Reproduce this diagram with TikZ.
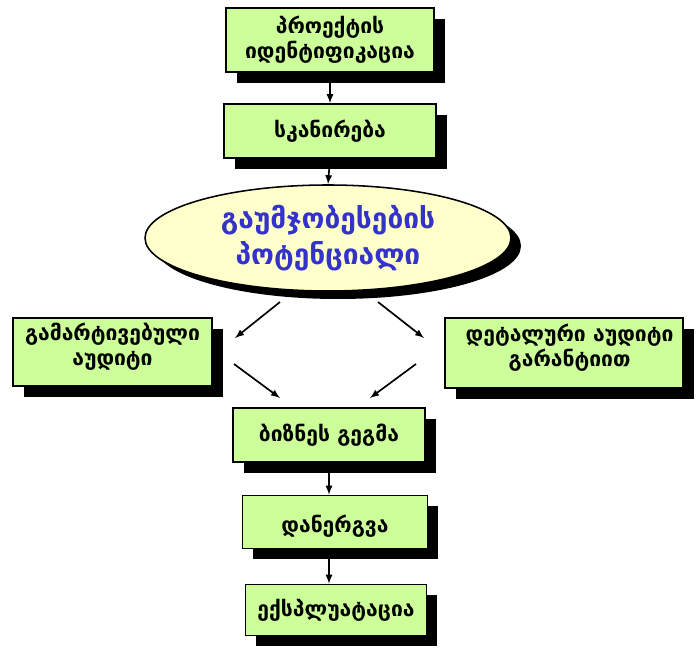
\documentclass[tikz,border=0pt]{standalone}
\usepackage{fontspec}
\setmainfont{DejaVu Sans}
\usetikzlibrary{shapes.geometric,shadows}

% text block moved inside its box
\newcommand{\shifted}[3]{\raisebox{#2}[\height][\depth]{\hspace*{#1}\begin{tabular}{@{}c@{}}#3\end{tabular}}}

\begin{document}
\begin{tikzpicture}[x=0.025cm,y=-0.025cm]
	\tikzset{
	box/.style={rectangle,draw,line width=1.1pt,fill=boxgreen,inner sep=0pt,align=center,
		font=\bfseries\fontsize{15}{18}\selectfont,
		general shadow={fill=black,shadow xshift=0.27cm,shadow yshift=-0.27cm}},
	arrow/.style={-latex,line width=1.2pt}}

	\definecolor{boxgreen}{RGB}{204,255,153}
	\definecolor{ellyellow}{RGB}{255,255,204}
	\definecolor{textblue}{RGB}{51,51,204}

	\useasboundingbox (0,0) rectangle (699,648);

	%top
	\node[box,minimum width=208*0.025cm,minimum height=64*0.025cm] (ident) at (330,40) {პროექტის\\იდენტიფიკაცია};
	\node[box,minimum width=212*0.025cm,minimum height=54*0.025cm] (scan) at (330,131) {სკანირება};

	\node[ellipse,draw,line width=1.1pt,fill=ellyellow,inner sep=0pt,align=center,
		minimum width=366*0.025cm,minimum height=106*0.025cm,
		font=\bfseries\fontsize{20}{26}\selectfont,text=textblue,
		general shadow={fill=black,shadow xshift=0.25cm,shadow yshift=-0.2cm}] (potential) at (328,238) {გაუმჯობესების\\პოტენციალი};

	\draw[arrow] (ident.south) -- (scan.north);
	\draw[arrow] (scan.south) -- (potential.north);

	%audits
	\node[box,minimum width=199*0.025cm,minimum height=68*0.025cm] (simple) at (112.5,352) {\shifted{0pt}{3pt}{გამარტივებული\\აუდიტი}};
	\node[box,minimum width=238*0.025cm,minimum height=70*0.025cm] (detail) at (564,353) {\shifted{8pt}{3pt}{დეტალური აუდიტი\\გარანტიით}};

	\coordinate (l1) at (280,302);
	\coordinate (l2) at (235,338);
	\coordinate (r1) at (378,302);
	\coordinate (r2) at (424,338);
	\coordinate (l3) at (234,364);
	\coordinate (l4) at (280,398);
	\coordinate (r3) at (416,364);
	\coordinate (r4) at (370,398);

	\draw[arrow] (l1) -- (l2);
	\draw[arrow] (r1) -- (r2);
	\draw[arrow] (l3) -- (l4);
	\draw[arrow] (r3) -- (r4);

	%bottom
	\node[box,minimum width=192*0.025cm,minimum height=54*0.025cm] (plan) at (329,435) {ბიზნეს გეგმა};
	\node[box,minimum width=185*0.025cm,minimum height=53*0.025cm] (impl) at (335,522) {\shifted{0pt}{-4pt}{დანერგვა}};
	\node[box,minimum width=181*0.025cm,minimum height=51*0.025cm] (oper) at (336,610) {ექსპლუატაცია};

	\draw[arrow] (plan.south) -- (impl.north -| plan.south);
	\draw[arrow] (impl.south -| plan.south) -- (oper.north -| plan.south);

\end{tikzpicture}
\end{document}
